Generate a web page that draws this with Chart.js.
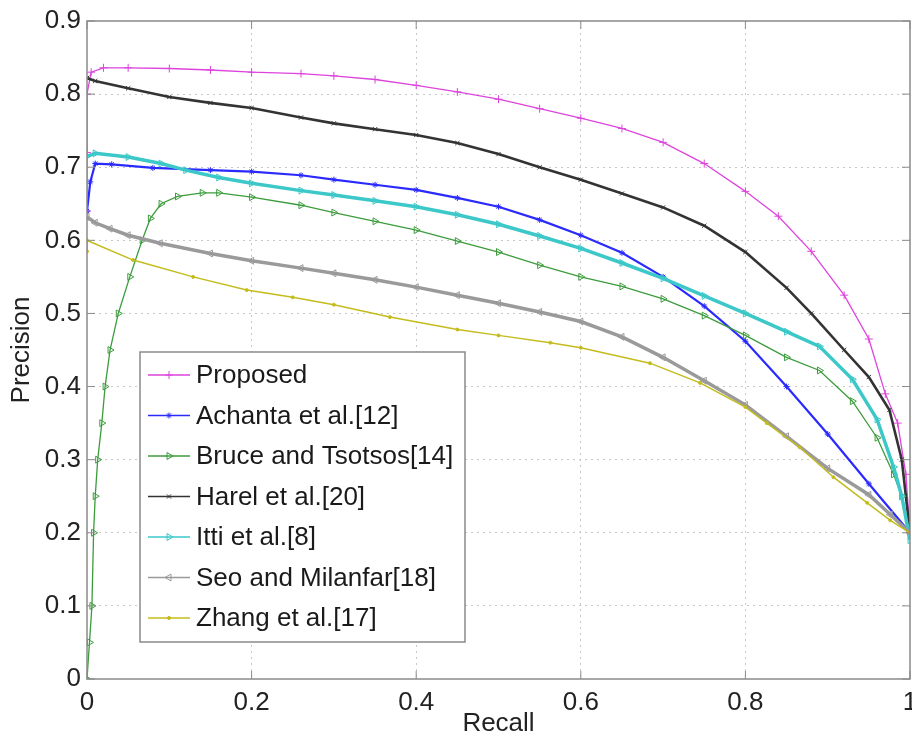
<!DOCTYPE html>
<html>
<head>
<meta charset="utf-8">
<script src="https://cdn.jsdelivr.net/npm/chart.js"></script>
<style>
  body { margin: 0; background: #fff; }
  canvas { display: block; }
</style>
</head>
<body>
<canvas id="PR" width="912" height="739"></canvas>
<script>
// precision / recall values, one pair of arrays per method
const methodNames = ["Proposed", "Achanta et al.[12]", "Bruce and Tsotsos[14]", "Harel et al.[20]",
                     "Itti et al.[8]", "Seo and Milanfar[18]", "Zhang et al.[17]"];

const proposedRecall    = [0, 0, 0, 0.005, 0.02, 0.05, 0.1, 0.15, 0.2, 0.26, 0.3, 0.35, 0.4, 0.45, 0.5, 0.55, 0.6, 0.65, 0.7, 0.75, 0.8, 0.84, 0.88, 0.92, 0.95, 0.97, 0.985, 0.995, 1];
const proposedPrecision = [0.64, 0.72, 0.80, 0.83, 0.836, 0.836, 0.835, 0.833, 0.830, 0.828, 0.825, 0.82, 0.812, 0.803, 0.793, 0.78, 0.767, 0.753, 0.734, 0.705, 0.667, 0.633, 0.585, 0.525, 0.465, 0.39, 0.35, 0.28, 0.2];

const achantaRecall    = [0, 0.004, 0.01, 0.03, 0.08, 0.15, 0.2, 0.26, 0.3, 0.35, 0.4, 0.45, 0.5, 0.55, 0.6, 0.65, 0.7, 0.75, 0.8, 0.85, 0.9, 0.95, 1];
const achantaPrecision = [0.64, 0.68, 0.705, 0.704, 0.699, 0.696, 0.694, 0.689, 0.683, 0.676, 0.669, 0.658, 0.646, 0.628, 0.607, 0.583, 0.55, 0.51, 0.462, 0.40, 0.335, 0.267, 0.2];

const bruceRecall    = [0, 0.003, 0.006, 0.008, 0.01, 0.013, 0.018, 0.022, 0.028, 0.038, 0.052, 0.067, 0.077, 0.09, 0.11, 0.14, 0.16, 0.2, 0.26, 0.3, 0.35, 0.4, 0.45, 0.5, 0.55, 0.6, 0.65, 0.7, 0.75, 0.8, 0.85, 0.89, 0.93, 0.96, 0.98, 0.99, 1];
const brucePrecision = [0, 0.05, 0.1, 0.2, 0.25, 0.3, 0.35, 0.4, 0.45, 0.5, 0.55, 0.6, 0.63, 0.65, 0.66, 0.665, 0.665, 0.659, 0.648, 0.638, 0.626, 0.614, 0.599, 0.584, 0.566, 0.55, 0.537, 0.52, 0.497, 0.47, 0.44, 0.422, 0.38, 0.33, 0.28, 0.25, 0.2];

const harelRecall    = [0, 0.01, 0.05, 0.1, 0.15, 0.2, 0.26, 0.3, 0.35, 0.4, 0.45, 0.5, 0.55, 0.6, 0.65, 0.7, 0.75, 0.8, 0.85, 0.88, 0.92, 0.95, 0.975, 0.99, 1];
const harelPrecision = [0.822, 0.818, 0.808, 0.796, 0.788, 0.781, 0.768, 0.760, 0.752, 0.744, 0.733, 0.718, 0.700, 0.683, 0.664, 0.645, 0.620, 0.584, 0.535, 0.500, 0.450, 0.413, 0.368, 0.30, 0.2];

const ittiRecall    = [0, 0.01, 0.05, 0.09, 0.12, 0.16, 0.2, 0.26, 0.3, 0.35, 0.4, 0.45, 0.5, 0.55, 0.6, 0.65, 0.7, 0.75, 0.8, 0.85, 0.89, 0.93, 0.96, 0.98, 0.99, 1];
const ittiPrecision = [0.715, 0.719, 0.714, 0.705, 0.696, 0.686, 0.678, 0.668, 0.662, 0.654, 0.646, 0.635, 0.622, 0.606, 0.589, 0.569, 0.548, 0.524, 0.50, 0.475, 0.455, 0.41, 0.355, 0.29, 0.25, 0.19];

const seoRecall    = [0, 0.01, 0.028, 0.05, 0.089, 0.15, 0.2, 0.26, 0.3, 0.35, 0.4, 0.45, 0.5, 0.55, 0.6, 0.65, 0.7, 0.75, 0.8, 0.85, 0.9, 0.95, 0.976, 1];
const seoPrecision = [0.632, 0.624, 0.616, 0.607, 0.596, 0.582, 0.572, 0.562, 0.555, 0.546, 0.536, 0.525, 0.514, 0.502, 0.489, 0.468, 0.44, 0.408, 0.375, 0.332, 0.288, 0.252, 0.225, 0.2];

const zhangRecall    = [0, 0, 0.056, 0.129, 0.194, 0.25, 0.3, 0.368, 0.45, 0.5, 0.563, 0.6, 0.684, 0.745, 0.8, 0.826, 0.866, 0.907, 0.948, 0.976, 1];
const zhangPrecision = [0.585, 0.60, 0.573, 0.55, 0.532, 0.522, 0.512, 0.495, 0.478, 0.47, 0.46, 0.453, 0.432, 0.405, 0.372, 0.35, 0.317, 0.276, 0.241, 0.217, 0.2];

const xTicks = [0, 0.2, 0.4, 0.6, 0.8, 1];
const yTicks = [0, 0.1, 0.2, 0.3, 0.4, 0.5, 0.6, 0.7, 0.8, 0.9];

const FONT = "'Liberation Sans', Arial, sans-serif";

function toPoints(xs, ys) {
    return xs.map((x, i) => ({x: x, y: ys[i]}));
}

// style per method: colour, line width, marker, marker size, rotation, hollow marker
const looks = [
    {color: "#dd44dd", lw: 1.3, style: "cross",    r: 4,   rot: 0,   hollow: false},
    {color: "#2a2aff", lw: 2.2, style: "star",     r: 3,   rot: 0,   hollow: false},
    {color: "#3c9c3c", lw: 1.3, style: "triangle", r: 4,   rot: 90,  hollow: true},
    {color: "#333333", lw: 2.6, style: "crossRot", r: 3,   rot: 0,   hollow: false},
    {color: "#3cc8c8", lw: 3.5, style: "triangle", r: 4,   rot: 90,  hollow: true},
    {color: "#9a9a9a", lw: 3.5, style: "triangle", r: 4,   rot: -90, hollow: true},
    {color: "#c4bc1c", lw: 1.5, style: "circle",   r: 1.5, rot: 0,   hollow: false}
];

const series = [
    toPoints(proposedRecall, proposedPrecision),
    toPoints(achantaRecall, achantaPrecision),
    toPoints(bruceRecall, brucePrecision),
    toPoints(harelRecall, harelPrecision),
    toPoints(ittiRecall, ittiPrecision),
    toPoints(seoRecall, seoPrecision),
    toPoints(zhangRecall, zhangPrecision)
];

let datasets = series.map((pts, i) => ({
    label: methodNames[i],
    data: pts,
    showLine: true,
    borderColor: looks[i].color,
    borderWidth: looks[i].lw,
    pointStyle: looks[i].style,
    pointRadius: looks[i].r,
    pointRotation: looks[i].rot,
    pointBorderColor: looks[i].color,
    pointBackgroundColor: looks[i].hollow ? "rgba(255,255,255,0)" : looks[i].color,
    pointBorderWidth: 1,
    tension: 0,
    order: 7 - i
}));

// box around the axes plus MATLAB style inner ticks
const axesBox = {
    id: "axesBox",
    afterDraw(chart) {
        const ctx = chart.ctx, a = chart.chartArea;
        const xs = chart.scales.x, ys = chart.scales.y;
        ctx.save();
        ctx.strokeStyle = "#8a8a8a";
        ctx.lineWidth = 1.5;
        ctx.strokeRect(a.left, a.top, a.right - a.left, a.bottom - a.top);
        ctx.lineWidth = 1;
        ctx.beginPath();
        xTicks.forEach(v => {
            const px = xs.getPixelForValue(v);
            ctx.moveTo(px, a.bottom); ctx.lineTo(px, a.bottom - 8);
            ctx.moveTo(px, a.top);    ctx.lineTo(px, a.top + 8);
        });
        yTicks.forEach(v => {
            const py = ys.getPixelForValue(v);
            ctx.moveTo(a.left, py);  ctx.lineTo(a.left + 8, py);
            ctx.moveTo(a.right, py); ctx.lineTo(a.right - 8, py);
        });
        ctx.stroke();
        ctx.restore();
    }
};

// legend drawn inside the plot, lower left
const boxLegend = {
    id: "boxLegend",
    afterDraw(chart) {
        const ctx = chart.ctx;
        const left = 140, top = 352, w = 325, h = 290, step = 40.5;
        ctx.save();
        ctx.fillStyle = "#fff";
        ctx.fillRect(left, top, w, h);
        ctx.strokeStyle = "#8a8a8a";
        ctx.lineWidth = 1.5;
        ctx.strokeRect(left, top, w, h);
        ctx.font = "26px " + FONT;
        ctx.textBaseline = "middle";
        chart.data.datasets.forEach((ds, i) => {
            const y = top + 23 + step * i;
            ctx.strokeStyle = ds.borderColor;
            ctx.lineWidth = 1.3;
            ctx.beginPath();
            ctx.moveTo(148, y); ctx.lineTo(190, y);
            ctx.stroke();
            ctx.fillStyle = ds.pointBackgroundColor;
            ctx.strokeStyle = ds.pointBorderColor;
            ctx.lineWidth = 1;
            Chart.helpers.drawPoint(ctx, {pointStyle: ds.pointStyle, radius: ds.pointRadius,
                rotation: ds.pointRotation, borderWidth: 1}, 169, y);
            ctx.fillStyle = "#1a1a1a";
            ctx.fillText(ds.label, 196, y + 1);
        });
        ctx.restore();
    }
};

const tickFont = {family: FONT, size: 26};

new Chart(document.getElementById("PR"), {
    type: "scatter",
    data: {datasets: datasets},
    plugins: [axesBox, boxLegend],
    options: {
        responsive: false,
        animation: false,
        devicePixelRatio: 1,
        layout: {autoPadding: false, padding: {top: 21, right: 2, left: 0, bottom: 0}},
        plugins: {legend: {display: false}, tooltip: {enabled: false}},
        scales: {
            x: {
                type: "linear", min: 0, max: 1,
                afterBuildTicks: s => { s.ticks = xTicks.map(v => ({value: v})); },
                afterFit: s => { s.height = 60; s.paddingLeft = 0; s.paddingRight = 0; },
                ticks: {font: tickFont, color: "#222", padding: 8, maxRotation: 0,
                        callback: v => String(v)},
                grid: {color: ctx => (ctx.tick && (ctx.tick.value === 0 || ctx.tick.value === 1)) ? "rgba(0,0,0,0)" : "#c8c8c8",
                       drawTicks: false, lineWidth: 1},
                border: {display: false, dash: [2, 4]},
                title: {display: true, text: "Recall", font: tickFont, color: "#222", padding: {top: 0, bottom: 0}}
            },
            y: {
                type: "linear", min: 0, max: 0.9,
                afterBuildTicks: s => { s.ticks = yTicks.map(v => ({value: v})); },
                afterFit: s => { s.width = 87; s.paddingTop = 0; s.paddingBottom = 0; },
                ticks: {font: tickFont, color: "#222", padding: 6,
                        callback: v => String(+v.toFixed(1))},
                grid: {color: ctx => (ctx.tick && (ctx.tick.value === 0 || Math.abs(ctx.tick.value - 0.9) < 1e-9)) ? "rgba(0,0,0,0)" : "#c8c8c8",
                       drawTicks: false, lineWidth: 1},
                border: {display: false, dash: [2, 4]},
                title: {display: true, text: "Precision", font: tickFont, color: "#222", padding: {top: 6, bottom: 0}}
            }
        }
    }
});
</script>
</body>
</html>
